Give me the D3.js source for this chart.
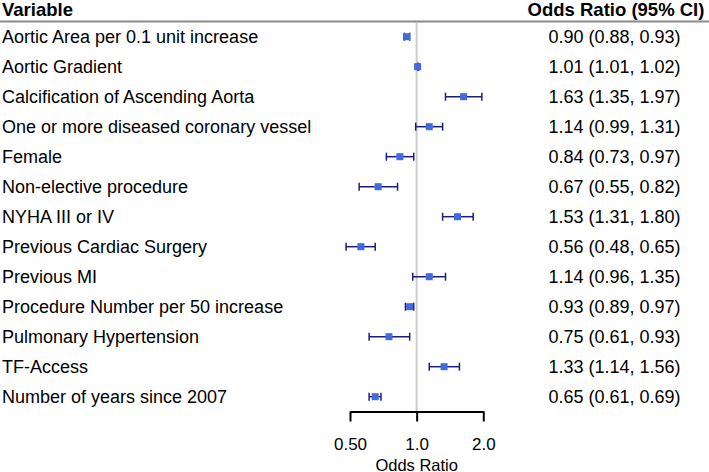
<!DOCTYPE html>
<html><head><meta charset="utf-8">
<script src="https://cdn.jsdelivr.net/npm/d3@7"></script>
<style>body{margin:0;background:#fff}svg{display:block}text{font-family:"Liberation Sans",Arial,sans-serif}</style>
</head><body>
<svg id="c" width="709" height="472"></svg>
<script>
const variables = ["Aortic Area per 0.1 unit increase","Aortic Gradient","Calcification of Ascending Aorta","One or more diseased coronary vessel","Female","Non-elective procedure","NYHA III or IV","Previous Cardiac Surgery","Previous MI","Procedure Number per 50 increase","Pulmonary Hypertension","TF-Access","Number of years since 2007"];
const oddsRatio = [0.90,1.01,1.63,1.14,0.84,0.67,1.53,0.56,1.14,0.93,0.75,1.33,0.65];
const ciLow =    [0.88,1.01,1.35,0.99,0.73,0.55,1.31,0.48,0.96,0.89,0.61,1.14,0.61];
const ciHigh =   [0.93,1.02,1.97,1.31,0.97,0.82,1.80,0.65,1.35,0.97,0.93,1.56,0.69];
const tickValues = [0.5,1.0,2.0];
const tickLabels = ["0.50","1.0","2.0"];

const svg = d3.select("#c");
const x = d3.scaleLog().domain([0.5,2.0]).range([350,483.3]);
const y = d3.scalePoint().domain(variables).range([36.7,396.7]);

// header
svg.append("text").attr("x",2).attr("y",16).attr("font-size",18.5).attr("font-weight","bold").text("Variable");
svg.append("text").attr("x",616).attr("y",16).attr("text-anchor","middle").attr("font-size",18.5).attr("font-weight","bold").text("Odds Ratio (95% CI)");
svg.append("line").attr("x1",0).attr("x2",709).attr("y1",21.5).attr("y2",21.5).attr("stroke","#8a8a8a").attr("stroke-width",2);

// reference line
svg.append("line").attr("x1",x(1)).attr("x2",x(1)).attr("y1",22.5).attr("y2",411).attr("stroke","#cccccc").attr("stroke-width",2);

const rows = variables.map((v,i)=>({v,or:oddsRatio[i],lo:ciLow[i],hi:ciHigh[i]}));
const g = svg.append("g");
rows.forEach(d=>{
  const cy = y(d.v);
  g.append("text").attr("x",2).attr("y",cy+6.6).attr("font-size",18).text(d.v);
  g.append("text").attr("x",614.5).attr("y",cy+6.6).attr("text-anchor","middle").attr("font-size",18)
    .text(`${d.or.toFixed(2)} (${d.lo.toFixed(2)}, ${d.hi.toFixed(2)})`);
  const col="#1c1c7c";
  g.append("line").attr("x1",x(d.lo)).attr("x2",x(d.hi)).attr("y1",cy).attr("y2",cy).attr("stroke",col).attr("stroke-width",1.5);
  [d.lo,d.hi].forEach(e=>g.append("line").attr("x1",x(e)).attr("x2",x(e)).attr("y1",cy-4).attr("y2",cy+4).attr("stroke",col).attr("stroke-width",1.5));
  g.append("rect").attr("x",x(d.or)-3.5).attr("y",cy-3.5).attr("width",7).attr("height",7).attr("fill","#4169e1");
});

// axis
const axisY = 411.5;
const ax = svg.append("g").attr("transform",`translate(0,${axisY})`)
  .call(d3.axisBottom(x).tickValues(tickValues).tickFormat((d,i)=>tickLabels[i]).tickSize(10).tickSizeOuter(0));
ax.select(".domain").attr("stroke","#000").attr("stroke-width",2);
ax.selectAll(".tick line").attr("stroke","#000").attr("stroke-width",2);
ax.selectAll(".tick text").attr("font-size",17).attr("font-family","Liberation Sans, Arial, sans-serif").attr("fill","#000").attr("y",0).attr("dy",0).attr("transform","translate(0,38.5)");
svg.append("text").attr("x",x(1)).attr("y",470.5).attr("text-anchor","middle").attr("font-size",16.5).text("Odds Ratio");
</script>
</body></html>
